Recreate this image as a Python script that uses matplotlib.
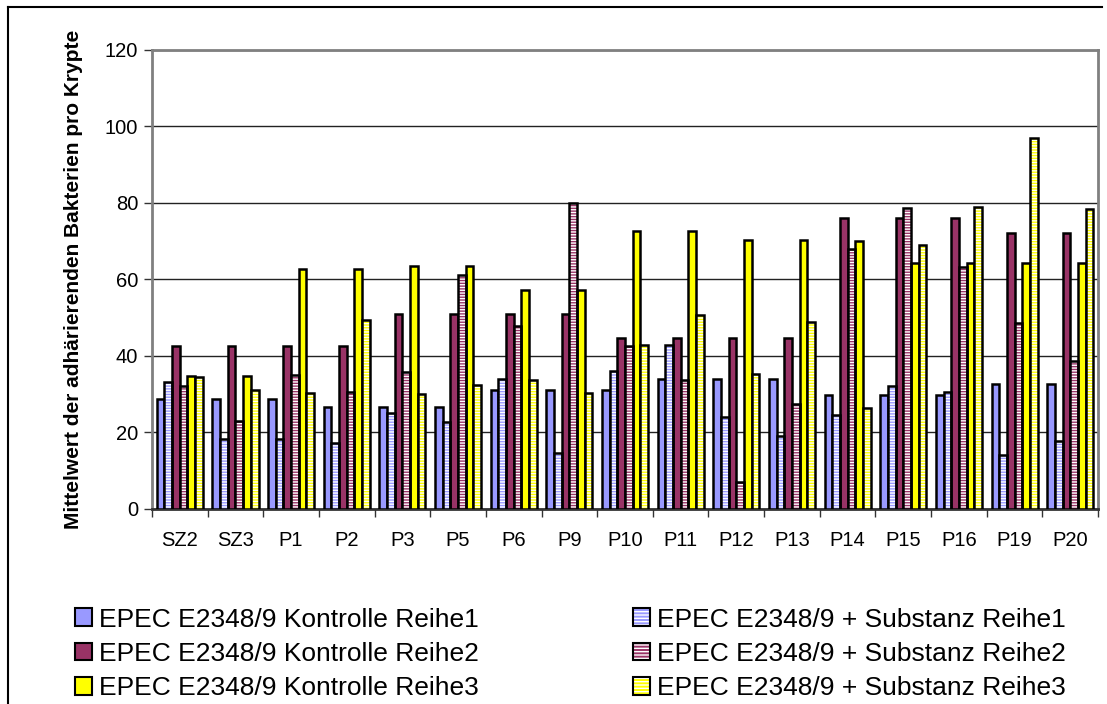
import numpy as np
import matplotlib
matplotlib.use('Agg')
import matplotlib.pyplot as plt
from matplotlib.patches import Patch
from matplotlib.lines import Line2D
from matplotlib.legend_handler import HandlerTuple

plt.rcParams['font.family'] = ['Liberation Sans', 'DejaVu Sans']
plt.rcParams['hatch.linewidth'] = 1.0

categories = ['SZ2', 'SZ3', 'P1', 'P2', 'P3', 'P5', 'P6', 'P9', 'P10', 'P11',
              'P12', 'P13', 'P14', 'P15', 'P16', 'P19', 'P20']

# Kontrolle / + Substanz, Reihe 1-3
kontrolle_r1 = [28.7, 28.7, 28.7, 26.6, 26.7, 26.7, 31.0, 31.0, 31.0, 34.0,
                34.1, 34.1, 29.9, 29.9, 29.9, 32.6, 32.6]
substanz_r1 = [33.2, 18.2, 18.2, 17.2, 25.0, 22.8, 34.1, 14.7, 36.1, 42.8,
               24.1, 19.0, 24.5, 32.2, 30.7, 14.1, 17.8]
kontrolle_r2 = [42.5, 42.5, 42.5, 42.5, 51.0, 51.0, 51.0, 51.0, 44.8, 44.8,
                44.8, 44.8, 76.1, 76.1, 76.1, 72.1, 72.1]
substanz_r2 = [32.2, 23.0, 35.0, 30.5, 35.8, 61.3, 47.8, 80.0, 42.5, 33.7,
               7.1, 27.4, 68.0, 78.8, 63.2, 48.7, 38.6]
kontrolle_r3 = [34.8, 34.8, 62.8, 62.8, 63.5, 63.5, 57.3, 57.3, 72.8, 72.8,
                70.2, 70.2, 70.1, 64.2, 64.2, 64.2, 64.2]
substanz_r3 = [34.6, 31.1, 30.4, 49.3, 30.0, 32.5, 33.8, 30.2, 42.8, 50.6,
               35.4, 49.0, 26.4, 69.1, 79.0, 97.1, 78.3]

labels = ['EPEC E2348/9 Kontrolle Reihe1', 'EPEC E2348/9 + Substanz Reihe1',
          'EPEC E2348/9 Kontrolle Reihe2', 'EPEC E2348/9 + Substanz Reihe2',
          'EPEC E2348/9 Kontrolle Reihe3', 'EPEC E2348/9 + Substanz Reihe3']

series = [kontrolle_r1, substanz_r1, kontrolle_r2, substanz_r2, kontrolle_r3, substanz_r3]
colors = ['#9999FF', '#9999FF', '#993366', '#993366', '#FFFF00', '#FFFF00']
hatched = [False, True, False, True, False, True]
HATCH = '------'

fig = plt.figure(figsize=(11.07, 7.04), dpi=100)
ax = fig.add_axes([0.1373, 0.277, 0.8546, 0.652])

x = np.arange(len(categories))
w = 0.138
handles = {}
for i, (vals, c, h, lab) in enumerate(zip(series, colors, hatched, labels)):
    pos = x + (i - 2.5) * w
    if h:
        ax.bar(pos, vals, w, color=c, edgecolor='white', hatch=HATCH, linewidth=0, zorder=3)
        ax.bar(pos, vals, w, fill=False, edgecolor='black', linewidth=1.8, zorder=4)
        handles[lab] = (Patch(facecolor=c, edgecolor='white', hatch='-----', linewidth=0),
                        Patch(fill=False, edgecolor='black', linewidth=1.5))
    else:
        ax.bar(pos, vals, w, color=c, edgecolor='black', linewidth=1.8, zorder=3)
        handles[lab] = Patch(facecolor=c, edgecolor='black', linewidth=1.5)

ax.set_xlim(-0.5, len(categories) - 0.5)
ax.set_ylim(0, 120)
ax.set_yticks(np.arange(0, 121, 20))
ax.set_xticks(np.arange(-0.5, len(categories), 1.0))
ax.set_xticklabels([])
ax.set_xticks(x, minor=True)
ax.set_xticklabels(categories, minor=True)
ax.tick_params(axis='x', which='minor', length=0, labelsize=14.5, pad=16)
ax.tick_params(axis='x', which='major', length=6, width=1, color='#333333')
ax.tick_params(axis='y', length=6, width=1, color='#333333', labelsize=14.5, pad=4,
               direction='out')
ax.grid(axis='y', color='#222222', linewidth=1, zorder=0)
ax.set_axisbelow(True)
for s in ax.spines.values():
    s.set_color('#808080')
    s.set_linewidth(2)
ax.spines['bottom'].set_color('#333333')

ax.set_ylabel('Mittelwert der adhärierenden Bakterien pro Krypte', fontsize=15,
              fontweight='bold', labelpad=16)

order = [labels[0], labels[2], labels[4], labels[1], labels[3], labels[5]]
leg = fig.legend([handles[l] for l in order], order, ncol=2, loc='upper left',
                 bbox_to_anchor=(0.058, 0.152), frameon=False, fontsize=19,
                 handlelength=0.65, handleheight=0.65, handletextpad=0.25,
                 columnspacing=5.85, labelspacing=0.39, borderaxespad=0,
                 handler_map={tuple: HandlerTuple(ndivide=1)})

# outer chart frame (cut off at the right and bottom)
fig.add_artist(Line2D([8 / 1107, 1102 / 1107], [1 - 7 / 704, 1 - 7 / 704],
                      transform=fig.transFigure, color='black', linewidth=1.5))
fig.add_artist(Line2D([8 / 1107, 8 / 1107], [0, 1 - 7 / 704],
                      transform=fig.transFigure, color='black', linewidth=1.5))

fig.savefig('out.png', dpi=100)
